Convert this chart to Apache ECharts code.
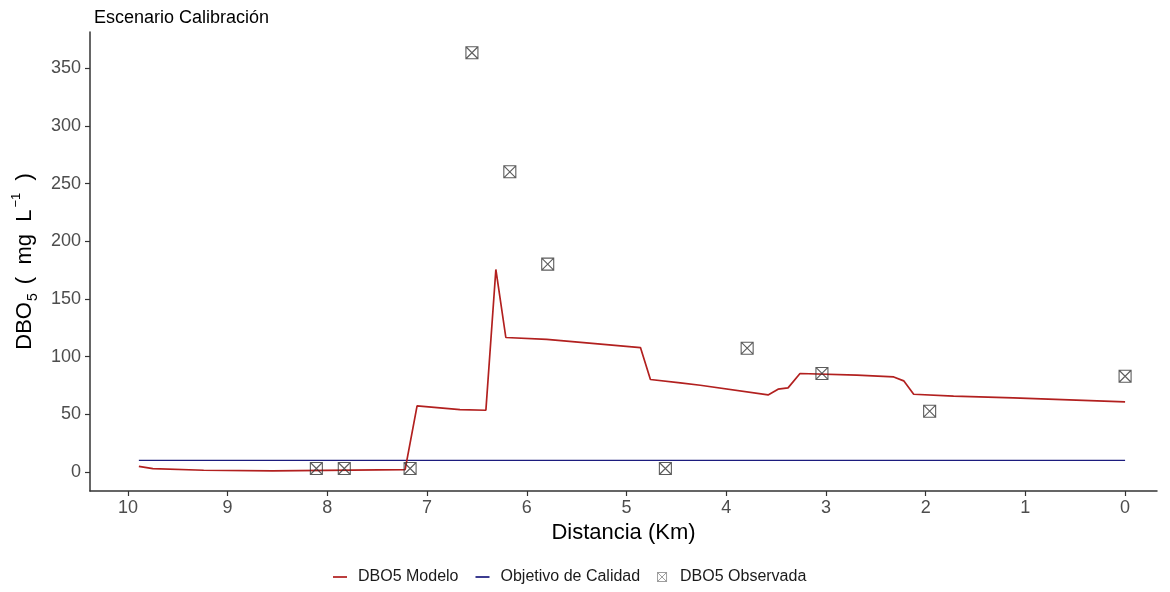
<!DOCTYPE html>
<html>
<head>
<meta charset="utf-8">
<title>Escenario Calibración</title>
<script src="https://cdn.jsdelivr.net/npm/echarts@6/dist/echarts.min.js"></script>
<style>
  html, body { margin: 0; padding: 0; background: #ffffff; }
  #chart { width: 1170px; height: 592px; }
</style>
</head>
<body>
<div id="chart"></div>
<script>
// Modelled BOD5 profile along the river: [distance (km), mg/L]
const modeloDBO5 = [
  [9.89, 4.9], [9.75, 2.9], [9.24, 1.5], [8.55, 0.9], [7.22, 2.0],
  [7.10, 57.3], [6.67, 54.0], [6.41, 53.5], [6.31, 175.6], [6.21, 116.6],
  [5.80, 114.9], [4.86, 107.9], [4.76, 80.2], [4.46, 77.2], [4.26, 75.2],
  [3.58, 66.8], [3.48, 71.8], [3.38, 72.9], [3.26, 85.4], [2.69, 83.9],
  [2.32, 82.4], [2.22, 79.0], [2.12, 67.4], [1.72, 65.7], [1.12, 64.2],
  [0.00, 60.7]
];

// Quality target (constant)
const objetivoCalidad = [[9.89, 10], [0.00, 10]];

// Field observations of BOD5
const observadaDBO5 = [
  [8.11, 3], [7.83, 3], [7.17, 3], [6.55, 363.5], [6.17, 260.3],
  [5.79, 180.2], [4.61, 3], [3.79, 107.3], [3.04, 85.4], [1.96, 52.7],
  [0.00, 83.0]
];

const xTicks = [0, 1, 2, 3, 4, 5, 6, 7, 8, 9, 10];
const yTicks = [0, 50, 100, 150, 200, 250, 300, 350];

// square with a cross inside
const boxCross = 'path://M0,0H10V10H0ZM0,0L10,10M10,0L0,10';
// short horizontal bar used as legend key for the lines
const lineKey = 'path://M0,0H13V1.6H0Z';

const chart = echarts.init(document.getElementById('chart'), null, { renderer: 'canvas' });

const FONT = 'Liberation Sans, Arial, sans-serif';
const tickColor = '#4d4d4d';
const axisColor = '#333333';
const redModel = '#b2201f';
const blueTarget = '#1c1c7e';

chart.setOption({
  backgroundColor: '#ffffff',
  animation: false,
  title: {
    text: 'Escenario Calibración',
    left: 89,
    top: 4,
    textStyle: { fontFamily: FONT, fontSize: 18, fontWeight: 'normal', color: '#000000' }
  },
  grid: { left: 90, right: 13, top: 32, bottom: 101, containLabel: false, outerBoundsMode: 'none' },
  legend: {
    left: 333,
    top: 569,
    itemGap: 17,
    itemWidth: 14,
    itemHeight: 9,
    padding: 0,
    symbolKeepAspect: true,
    textStyle: { fontFamily: FONT, fontSize: 16, color: '#1a1a1a', padding: [0, 0, 0, 6] },
    data: [
      { name: 'DBO5 Modelo', icon: lineKey, itemStyle: { color: redModel } },
      { name: 'Objetivo de Calidad', icon: lineKey, itemStyle: { color: blueTarget } },
      { name: 'DBO5 Observada', icon: boxCross, itemStyle: { color: 'transparent', borderColor: '#666666', borderWidth: 0.8 } }
    ]
  },
  xAxis: {
    type: 'value',
    inverse: true,
    min: -0.32,
    max: 10.38,
    name: 'Distancia (Km)',
    nameLocation: 'middle',
    nameGap: 31,
    nameTextStyle: { fontFamily: FONT, fontSize: 22, color: '#000000' },
    splitLine: { show: false },
    axisLine: { show: true, onZero: false, lineStyle: { color: axisColor, width: 1.5 } },
    axisTick: { show: true, length: 5, customValues: xTicks, lineStyle: { color: axisColor, width: 1.2 } },
    axisLabel: {
      customValues: xTicks,
      margin: 8,
      fontFamily: FONT,
      fontSize: 18,
      color: tickColor
    }
  },
  yAxis: {
    type: 'value',
    min: -16.5,
    max: 381.5,
    name: '{a|DBO}{s|5}{a| (  mg  L}{p|−1}{a| )}',
    nameLocation: 'middle',
    nameGap: 45,
    nameRotate: 90,
    nameTextStyle: {
      fontFamily: FONT,
      color: '#000000',
      rich: {
        a: { fontFamily: FONT, fontSize: 22, lineHeight: 30, color: '#000000' },
        s: { fontFamily: FONT, fontSize: 14, lineHeight: 14, verticalAlign: 'bottom', color: '#000000', padding: [0, 3, 0, 1] },
        p: { fontFamily: FONT, fontSize: 13, lineHeight: 13, verticalAlign: 'top', color: '#000000', padding: [0, 6, 0, 2] }
      }
    },
    splitLine: { show: false },
    axisLine: { show: true, onZero: false, lineStyle: { color: axisColor, width: 1.5 } },
    axisTick: { show: true, length: 5, customValues: yTicks, lineStyle: { color: axisColor, width: 1.2 } },
    axisLabel: {
      customValues: yTicks,
      margin: 9,
      fontFamily: FONT,
      fontSize: 18,
      color: tickColor
    }
  },
  series: [
    {
      name: 'DBO5 Modelo',
      type: 'line',
      data: modeloDBO5,
      symbol: 'none',
      lineStyle: { color: redModel, width: 1.7 },
      itemStyle: { color: redModel },
      z: 3
    },
    {
      name: 'Objetivo de Calidad',
      type: 'line',
      data: objetivoCalidad,
      symbol: 'none',
      lineStyle: { color: blueTarget, width: 1.3 },
      itemStyle: { color: blueTarget },
      z: 2
    },
    {
      name: 'DBO5 Observada',
      type: 'scatter',
      data: observadaDBO5,
      symbol: boxCross,
      symbolSize: 12,
      itemStyle: { color: 'transparent', borderColor: '#333333', borderWidth: 1.1 },
      z: 4
    }
  ]
});
</script>
</body>
</html>
